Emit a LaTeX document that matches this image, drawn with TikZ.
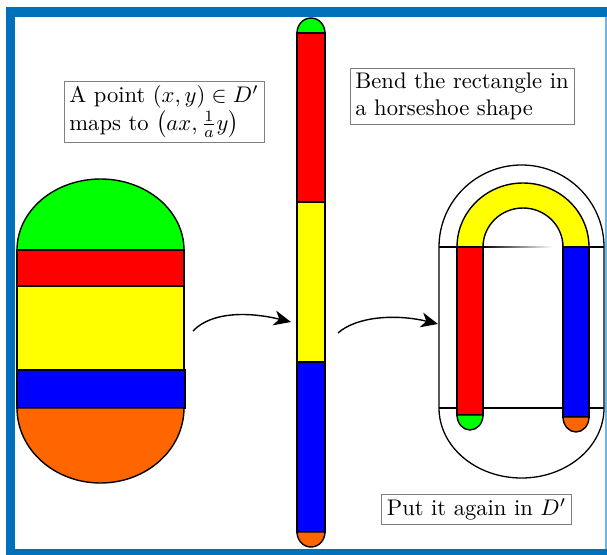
\documentclass[tikz,border=0pt]{standalone}
\usetikzlibrary{arrows.meta}
\definecolor{frameblue}{RGB}{0,112,186}
\definecolor{framelight}{RGB}{110,180,228}
\definecolor{cgreen}{RGB}{0,255,0}
\definecolor{cred}{RGB}{255,0,0}
\definecolor{cyellow}{RGB}{255,255,0}
\definecolor{cblue}{RGB}{0,0,255}
\definecolor{corange}{RGB}{255,102,0}
\begin{document}
\begin{tikzpicture}[x=1pt,y=-1pt,
  band/.style={draw=black,line width=1.4pt},
  outline/.style={draw=black,line width=1.3pt},
  labelbox/.style={draw=gray,line width=0.8pt,align=left,inner xsep=2.4pt,inner ysep=2pt,
    scale=2.26,transform shape},
  bentarrow/.style={line width=1.4pt,-{Stealth[length=17pt,width=15pt,inset=5pt]}}]
\useasboundingbox (0,0) rectangle (607,554);
% frame
\fill[frameblue] (6,7) rectangle (640,580);
\fill[white] (15,17) rectangle (604.5,549);
\fill[framelight] (604.5,17) rectangle (607,549);

% left stadium
\filldraw[band,fill=cgreen] (17,250) arc[start angle=180,end angle=360,x radius=83.5,y radius=71] -- cycle;
\filldraw[band,fill=cred] (17,250) rectangle (184,286);
\filldraw[band,fill=cyellow] (17,286) rectangle (184,370);
\filldraw[band,fill=cblue] (17,370) rectangle (185,408);
\filldraw[band,fill=corange] (184,408) arc[start angle=0,end angle=180,x radius=83.5,y radius=75] -- cycle;

% middle bar
\filldraw[band,fill=cgreen] (297,33) arc[start angle=180,end angle=360,x radius=14,y radius=15] -- cycle;
\filldraw[band,fill=cred] (297,33) rectangle (325,202);
\filldraw[band,fill=cyellow] (297,202) rectangle (325,362);
\filldraw[band,fill=cblue] (297,362) rectangle (325,532);
\filldraw[band,fill=corange] (325,532) arc[start angle=0,end angle=180,x radius=14,y radius=15] -- cycle;

% horseshoe outer D'
\draw[outline] (439,247) arc[start angle=180,end angle=360,x radius=82.5,y radius=82]
  -- (604,408) arc[start angle=0,end angle=180,x radius=82.5,y radius=70] -- cycle;
\draw[outline] (439,408) -- (604,408);
\draw[outline] (439,247) -- (483,247);
\draw[outline] (563,247) -- (604,247);
\shade[left color=black,right color=white] (483,246.4) rectangle (552,247.6);

% horseshoe
\filldraw[band,fill=cyellow] (457,247) arc[start angle=180,end angle=360,x radius=66,y radius=64]
  -- (563,247) arc[start angle=360,end angle=180,x radius=40,y radius=39] -- cycle;
\filldraw[band,fill=cred] (457,247) rectangle (483,415);
\filldraw[band,fill=cgreen] (483,415) arc[start angle=0,end angle=180,x radius=13,y radius=15] -- cycle;
\filldraw[band,fill=cblue] (563,247) rectangle (589,417);
\filldraw[band,fill=corange] (589,417) arc[start angle=0,end angle=180,x radius=13,y radius=15] -- cycle;

% arrows
\coordinate (a1s) at (193,331);
\coordinate (a1e) at (291,322);
\coordinate (a2s) at (338,333);
\coordinate (a2e) at (438,324);
\draw[bentarrow] (a1s) .. controls (212,311) and (250,312) .. (a1e);
\draw[bentarrow] (a2s) .. controls (357,316) and (397,314) .. (a2e);

% labels
\node[labelbox] (t1) at (164,112) {A point $(x,y)\in D'$\\maps to $\left(ax,\frac{1}{a}y\right)$};
\node[labelbox] (t2) at (462,96.5) {Bend the rectangle in\\a horseshoe shape};
\node[labelbox] (t3) at (476.5,509.5) {Put it again in $D'$};
\end{tikzpicture}
\end{document}
